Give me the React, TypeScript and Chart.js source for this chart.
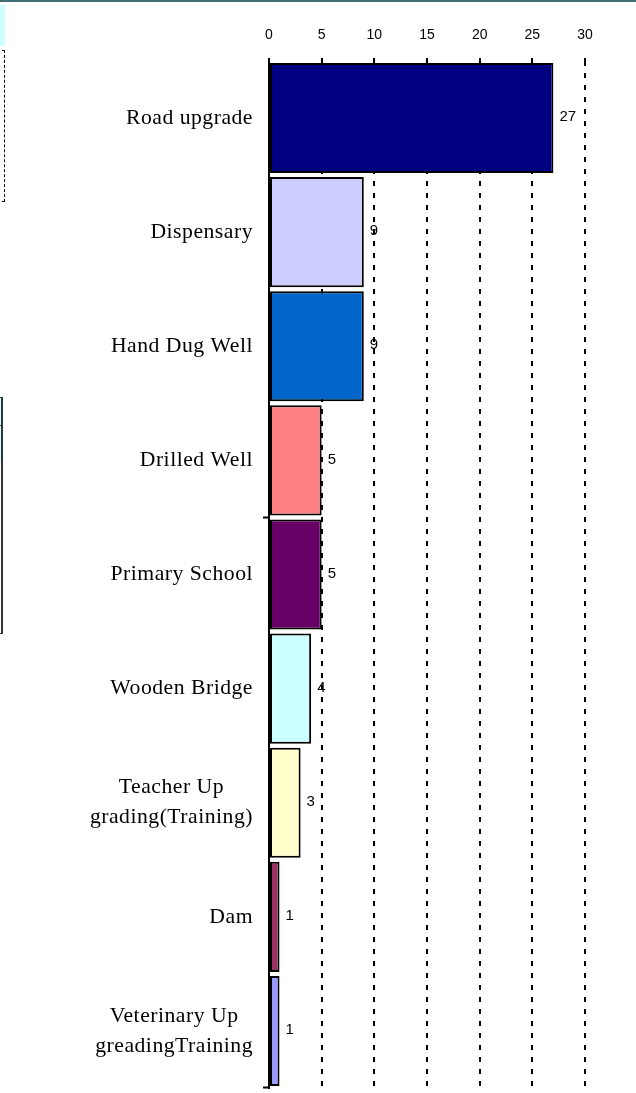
import React, { useEffect, useRef } from "react";
import { Chart, registerables } from "chart.js";

Chart.register(...registerables);

const categories: string[][] = [
  ["Road upgrade"],
  ["Dispensary"],
  ["Hand Dug Well"],
  ["Drilled Well"],
  ["Primary School"],
  ["Wooden Bridge"],
  ["Teacher Up", "grading(Training)"],
  ["Dam"],
  ["Veterinary Up", "greadingTraining"],
];

const values: number[] = [27, 9, 9, 5, 5, 4, 3, 1, 1];

const barColors: string[] = [
  "#000080",
  "#CCCCFF",
  "#0066CC",
  "#FF8080",
  "#660066",
  "#CCFFFF",
  "#FFFFCC",
  "#993366",
  "#9999FF",
];

const xTicks: number[] = [0, 5, 10, 15, 20, 25, 30];

const labelPlugin = {
  id: "customLabels",
  afterDraw(chart: any) {
    const ctx = chart.ctx;
    const yScale = chart.scales.y;
    ctx.save();
    // category labels
    ctx.font = "21.7px 'Liberation Serif', 'Times New Roman', serif";
    try {
      (ctx as any).letterSpacing = "0.5px";
    } catch (e) {}
    ctx.fillStyle = "#000";
    ctx.textAlign = "center";
    ctx.textBaseline = "middle";
    const rightEdge = yScale.right - 16;
    const lh = 30;
    categories.forEach((lines, i) => {
      const y = yScale.getPixelForValue(i);
      const maxW = Math.max(...lines.map((l) => ctx.measureText(l).width));
      const cx = rightEdge - maxW / 2;
      lines.forEach((line, j) => {
        const ly = y + (j - (lines.length - 1) / 2) * lh;
        ctx.fillText(line, cx, ly);
      });
    });
    try {
      (ctx as any).letterSpacing = "0px";
    } catch (e) {}
    // value labels
    ctx.font = "15px 'Liberation Sans', Arial, sans-serif";
    ctx.textAlign = "left";
    const meta = chart.getDatasetMeta(0);
    meta.data.forEach((el: any, i: number) => {
      ctx.fillText(String(values[i]), el.x + 6, el.y - 1);
    });
    ctx.restore();
  },
};

function App() {
  const canvasRef = useRef<HTMLCanvasElement | null>(null);

  useEffect(() => {
    if (!canvasRef.current) return;
    const chart = new Chart(canvasRef.current, {
      type: "bar",
      data: {
        labels: categories.map((c) => c.join(" ")),
        datasets: [
          {
            data: values,
            backgroundColor: barColors,
            borderColor: "#000",
            borderWidth: 2,
            borderSkipped: false,
            barPercentage: 0.965,
            categoryPercentage: 1,
          },
        ],
      },
      options: {
        indexAxis: "y",
        responsive: false,
        animation: false,
        devicePixelRatio: 1,
        layout: { padding: { left: 0, top: 0, right: 51, bottom: 5 } },
        plugins: {
          legend: { display: false },
          tooltip: { enabled: false },
        },
        scales: {
          x: {
            position: "top",
            min: 0,
            max: 30,
            afterFit: (scale: any) => {
              scale.height = 61;
            },
            afterBuildTicks: (scale: any) => {
              scale.ticks = xTicks.map((v) => ({ value: v }));
            },
            ticks: {
              padding: 14,
              color: "#000",
              font: {
                family: "'Liberation Sans', Arial, sans-serif",
                size: 14,
              },
            },
            grid: {
              display: true,
              drawOnChartArea: true,
              drawTicks: true,
              tickLength: 3,
              tickWidth: 2,
              tickColor: "#000",
              color: (ctx: any) => (ctx.tick && ctx.tick.value === 0 ? "rgba(0,0,0,0)" : "#000"),
              lineWidth: 2,
            },
            border: { display: false, dash: [5, 7] },
          },
          y: {
            afterFit: (scale: any) => {
              scale.width = 269;
            },
            ticks: { display: false },
            grid: {
              display: true,
              offset: true,
              drawOnChartArea: false,
              drawTicks: true,
              tickLength: 6,
              tickWidth: 2,
              tickColor: (ctx: any) =>
                ctx.index === 4 || ctx.type === "scale" ? "#000" : "rgba(0,0,0,0)",
            },
            border: { display: true, color: "#000", width: 2 },
          },
        },
      },
      plugins: [labelPlugin],
    } as any);
    (chart.options.scales as any).x.grid.tickBorderDash = [];
    chart.update();
    return () => chart.destroy();
  }, []);

  return (
    <div style={{ position: "fixed", left: 0, top: 0, width: 636, height: 1093, background: "#fff" }}>
      <canvas ref={canvasRef} width={636} height={1093} style={{ position: "absolute", left: 0, top: 0 }} />
      <div style={{ position: "absolute", left: 0, top: 0, width: 636, height: 2, background: "#3f6f75" }} />
      <div style={{ position: "absolute", left: 0, top: 5, width: 5, height: 41, background: "#CCFFFF" }} />
      <div
        style={{
          position: "absolute",
          left: 2,
          top: 50,
          width: 3,
          height: 152,
          borderTop: "1px solid #000",
          borderBottom: "1px solid #000",
          borderRight: "1px dashed #000",
          boxSizing: "border-box",
        }}
      />
      <div
        style={{
          position: "absolute",
          left: 0,
          top: 397,
          width: 3,
          height: 237,
          borderTop: "1px solid #333",
          borderBottom: "1px solid #333",
          borderRight: "2px solid #333",
          boxSizing: "border-box",
        }}
      >
        <div style={{ position: "absolute", left: 0, top: 0, width: 1, height: 64, background: "#CCFFFF" }} />
        <div style={{ position: "absolute", left: 0, top: 27, width: 1, height: 1, background: "#333" }} />
      </div>
    </div>
  );
}

export default App;
